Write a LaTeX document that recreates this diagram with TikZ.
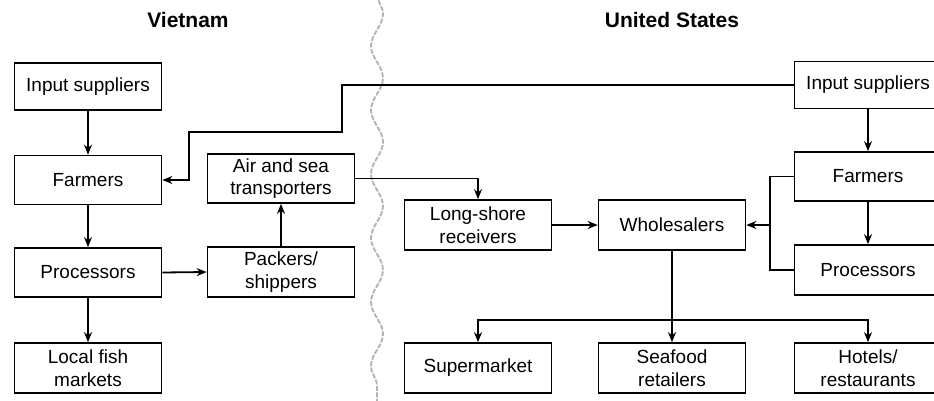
\documentclass[tikz,border=0pt]{standalone}
\usepackage{fontspec}
\setmainfont{Liberation Sans}
\usetikzlibrary{arrows.meta,decorations.pathmorphing}

\begin{document}
\begin{tikzpicture}[x=1pt,y=-1pt,
  box/.style={draw,line width=1.7pt,minimum width=147pt,minimum height=49pt,
    inner sep=0pt,align=center,font=\fontsize{19}{22.5}\selectfont},
  flow/.style={line width=1.8pt,-{Stealth[length=10pt,width=8pt]}},
  link/.style={line width=1.8pt},
  heading/.style={font=\bfseries\fontsize{21}{24}\selectfont},
  border/.style={draw=gray!60,line width=1.8pt,dash pattern=on 5pt off 1.5pt,
    decorate,decoration={snake,segment length=64pt,amplitude=6pt}}]
\useasboundingbox (0,0) rectangle (934,401);

% dividing line between the two countries
\draw[border] (377,-6) -- (377,410);

% headings
\node[heading] (tvn) at (188,20) {Vietnam};
\node[heading] (tus) at (672,20) {United States};

% Vietnam side
\node[box,minimum height=47pt] (vin) at (88,86.5) {Input suppliers};
\node[box] (vfarm) at (88,180) {Farmers};
\node[box] (vproc) at (88,272.5) {Processors};
\node[box,minimum height=50pt] (vmkt) at (88,368) {Local fish\\markets};
\node[box] (air) at (281,178.5) {Air and sea\\transporters};
\node[box,minimum height=50pt] (pack) at (281,272) {Packers/\\shippers};

% United States side
\node[box,minimum height=50pt] (ls) at (478,225) {Long-shore\\receivers};
\node[box,minimum height=50pt] (wh) at (672,225) {Wholesalers};
\node[box,minimum height=47pt] (uin) at (868,85) {Input suppliers};
\node[box] (ufarm) at (868,176.5) {Farmers};
\node[box,minimum height=50pt] (uproc) at (868,270) {Processors};
\node[box,minimum height=50pt] (sup) at (478,368) {Supermarket};
\node[box,minimum height=50pt] (sea) at (672,368) {Seafood\\retailers};
\node[box,minimum height=50pt] (hot) at (868,368) {Hotels/\\restaurants};

% Vietnam flows
\draw[flow] (vin) -- (vfarm);
\draw[flow] (vfarm) -- (vproc);
\draw[flow] (vproc) -- (vmkt);
\draw[flow] (vproc.east) -- (pack.west);
\draw[flow] (pack) -- (air);

% US input suppliers back to Vietnamese farmers
\coordinate (k1) at (342,132);
\coordinate (k2) at (189,132);
\draw[flow] (uin.west) -| (k1) -- (k2) |- (vfarm.east);

% shipping to the US
\draw[flow] (air.east) -| (ls.north);
\draw[flow] (ls.east) -- (wh.west);

% US production chain
\draw[flow] (uin) -- (ufarm);
\draw[flow] (ufarm) -- (uproc);
\coordinate (br) at (770,225);
\draw[link] (ufarm.west) -| (br) |- (uproc.west);
\draw[flow] (br) -- (wh.east);

% distribution
\coordinate (bus) at (672,320);
\draw[link] (wh.south) -- (bus);
\draw[flow] (bus) -- (sea.north);
\draw[flow] (bus) -| (sup.north);
\draw[flow] (bus) -| (hot.north);
\end{tikzpicture}
\end{document}
